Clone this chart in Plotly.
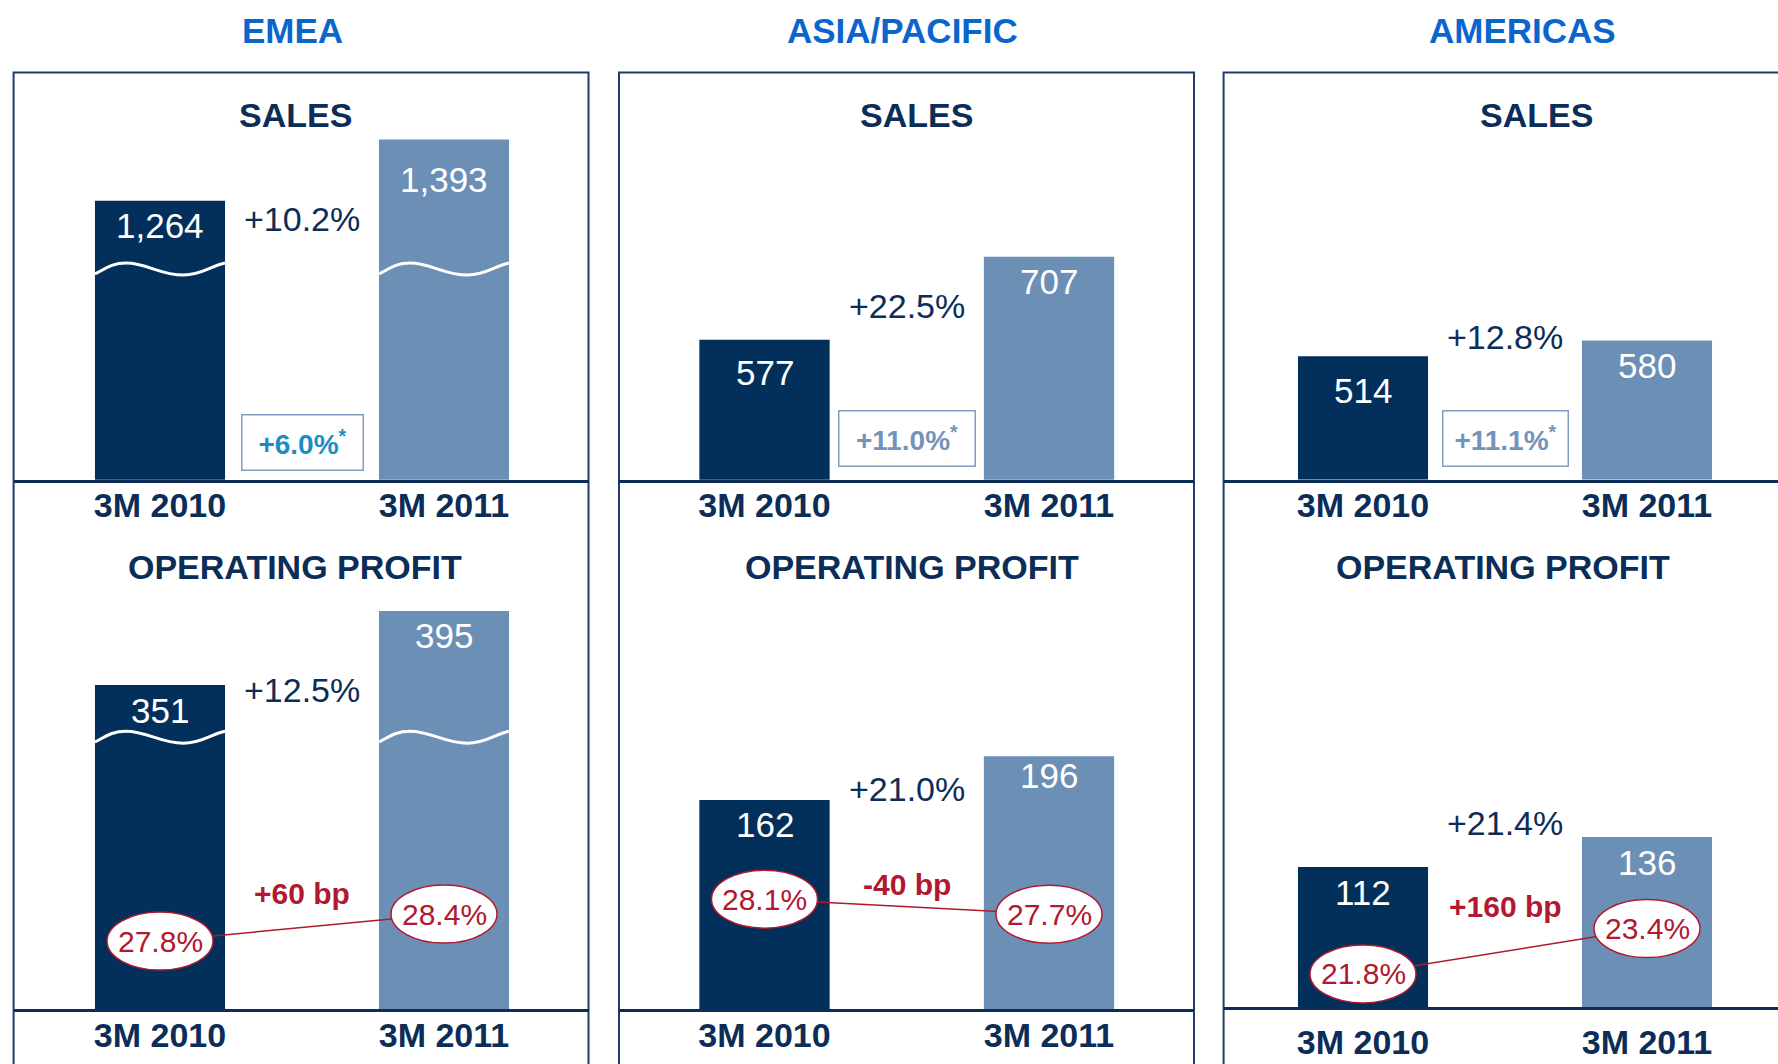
import plotly.graph_objects as go

W, H = 1778, 1064

# --- data -------------------------------------------------------------
regions = ["EMEA", "ASIA/PACIFIC", "AMERICAS"]
periods = ["3M 2010", "3M 2011"]

sales_emea = [1264, 1393]
sales_asia = [577, 707]
sales_americas = [514, 580]

op_emea = [351, 395]
op_asia = [162, 196]
op_americas = [112, 136]

margin_emea = [27.8, 28.4]
margin_asia = [28.1, 27.7]
margin_americas = [21.8, 23.4]

sales_growth = ["+10.2%", "+22.5%", "+12.8%"]
sales_growth_fx = ["+6.0%", "+11.0%", "+11.1%"]
op_growth = ["+12.5%", "+21.0%", "+21.4%"]
margin_change = ["+60 bp", "-40 bp", "+160 bp"]

sales = [sales_emea, sales_asia, sales_americas]
op = [op_emea, op_asia, op_americas]
margins = [margin_emea, margin_asia, margin_americas]

# --- styling ----------------------------------------------------------
DARK = "#03305b"
LIGHT = "#6c8fb6"
NAVY = "#0b2d57"
BLUE = "#0a66cc"
RED = "#b0192f"
BOXLINE = "#1f3d69"
FX_COLORS = ["#1b8dc6", "#7393bb", "#7393bb"]
NUM_FONT = "Liberation Sans, Arial, sans-serif"
HEAD_FONT = "Liberation Sans, Arial, sans-serif"

# pixel layout of the three columns
box_px = [(13.6, 588.5), (619, 1194), (1223.6, 1790)]
centers_px = [(160, 444), (764.5, 1049), (1363, 1647)]
sales_base_px, sales_top_px = 479.7, 135
op_base_px = [1009, 1009, 1007]
op_top_px = 600
tick_standoff = [[-6, -6, -6], [-6, -6, 3]]
# how far below the bar top each value label sits (px)
label_drop = [[[25, 40], [33, 25], [34, 25]],
              [[25, 24], [24, 19], [25, 25]]]

# axis scaling (start value, pixels per unit) - chart is not drawn to one scale
sales_start = [676, 358, 0]
sales_ppu = [0.4744, 0.6385, 0.24]
op_start = [158.4, 0, 0]
op_ppu = [1.682, 1.29, 1.25]
margin_start = [26.29, 25.17, 20.63]
margin_ppu = [45, 37.5, 28.3]
sales_break = [1120, None, None]
op_break = [320, None, None]

BAR_W = 0.458


def px(x):
    return x / W


def py(y):
    return 1 - y / H


def x_range(col):
    left, right = box_px[col]
    right = min(right, W)
    c0, c1 = centers_px[col]
    step = c1 - c0
    return [-(c0 - left) / step, 1 + (right - c1) / step]


def wave_path(cx, yc, amp):
    pts = [(0, -0.8), (0.07, -0.1), (0.12, 1), (0.24, 1), (0.40, 1), (0.50, -1),
           (0.68, -1), (0.82, -1), (0.90, 0.6), (1.0, 1.0)]
    xy = [(cx - BAR_W / 2 + t * BAR_W, yc + v * amp) for t, v in pts]
    s = "M %f,%f" % xy[0]
    for i in range(1, len(xy), 3):
        s += " C %f,%f %f,%f %f,%f" % (xy[i] + xy[i + 1] + xy[i + 2])
    return s


fig = go.Figure()
layout = dict(
    width=W, height=H, margin=dict(l=0, r=0, t=0, b=0, autoexpand=False),
    paper_bgcolor="white", plot_bgcolor="rgba(0,0,0,0)", showlegend=False,
)
shapes = []
annotations = []
ticktext = ["<b>%s</b>" % p for p in periods]

for col in range(3):
    left, right = box_px[col]
    dom_x = [px(left), min(px(right), 1)]
    for row in range(2):
        n = row * 3 + col + 1
        xa = "x" if n == 1 else "x%d" % n
        ya = "y" if n == 1 else "y%d" % n
        if row == 0:
            base, top = sales_base_px, sales_top_px
            vals, start, ppu, brk = sales[col], sales_start[col], sales_ppu[col], sales_break[col]
        else:
            base, top = op_base_px[col], op_top_px
            vals, start, ppu, brk = op[col], op_start[col], op_ppu[col], op_break[col]
        h = base - top
        layout["xaxis" if n == 1 else "xaxis%d" % n] = dict(
            domain=dom_x, range=x_range(col), anchor=ya, showgrid=False, zeroline=False,
            showline=True, linecolor=NAVY, linewidth=2.5, ticks="",
            tickvals=[0, 1], ticktext=ticktext,
            tickfont=dict(family=NUM_FONT, size=34, color=NAVY),
            ticklabelstandoff=tick_standoff[row][col],
        )
        layout["yaxis" if n == 1 else "yaxis%d" % n] = dict(
            domain=[py(base), py(top)], range=[start, start + h / ppu],
            anchor=xa, visible=False,
        )
        fig.add_trace(go.Bar(
            x=[0, 1], y=vals, width=BAR_W, marker=dict(color=[DARK, LIGHT], line=dict(width=0)),
            xaxis=xa, yaxis=ya, hoverinfo="skip",
        ))
        # value labels inside bars
        for i, v in enumerate(vals):
            annotations.append(dict(
                x=i, y=v, xref=xa, yref=ya, text=f"{v:,}", showarrow=False,
                xanchor="center", yanchor="middle", yshift=-label_drop[row][col][i],
                font=dict(family=NUM_FONT, size=35, color="white"),
            ))
        # axis-break waves
        if brk is not None:
            for i in range(2):
                shapes.append(dict(
                    type="path", xref=xa, yref=ya, path=wave_path(i, brk, 6 / ppu),
                    line=dict(color="white", width=3), layer="above",
                ))

        if row == 1:
            # margin line + ellipses on an overlaying axis
            m = 7 + col
            ma = "y%d" % m
            layout["yaxis%d" % m] = dict(
                overlaying=ya, anchor=xa, visible=False,
                range=[margin_start[col], margin_start[col] + h / margin_ppu[col]],
            )
            fig.add_trace(go.Scatter(
                x=[0, 1], y=margins[col], mode="lines", line=dict(color=RED, width=1.5),
                xaxis=xa, yaxis=ma, hoverinfo="skip",
            ))
            for i, mv in enumerate(margins[col]):
                shapes.append(dict(
                    type="circle", xref=xa, yref=ma, xsizemode="pixel", ysizemode="pixel",
                    xanchor=i, yanchor=mv, x0=-53, x1=53, y0=-29, y1=29,
                    fillcolor="white", line=dict(color=RED, width=1.5), layer="above",
                ))
                annotations.append(dict(
                    x=i, y=mv, xref=xa, yref=ma, text=f"{mv:.1f}%", showarrow=False,
                    xanchor="center", yanchor="middle",
                    font=dict(family=NUM_FONT, size=30, color=RED),
                ))

    # frame around the region column
    shapes.append(dict(
        type="rect", xref="paper", yref="paper", x0=px(left), x1=px(right),
        y0=-0.05, y1=py(72.6), line=dict(color=BOXLINE, width=2), layer="below",
    ))

# headings
region_x = [292.6, 902.7, 1522]
sales_title_x = [295, 916, 1536.6]
op_title_x = [295, 912, 1502.6]
for col in range(3):
    annotations.append(dict(
        x=px(region_x[col]), y=py(30.6), xref="paper", yref="paper",
        text="<b>%s</b>" % regions[col], showarrow=False, xanchor="center", yanchor="middle",
        font=dict(family=HEAD_FONT, size=35, color=BLUE),
    ))
    annotations.append(dict(
        x=px(sales_title_x[col]), y=py(114.5), xref="paper", yref="paper",
        text="<b>SALES</b>", showarrow=False, xanchor="center", yanchor="middle",
        font=dict(family=HEAD_FONT, size=34, color=NAVY),
    ))
    annotations.append(dict(
        x=px(op_title_x[col]), y=py(567), xref="paper", yref="paper",
        text="<b>OPERATING PROFIT</b>", showarrow=False, xanchor="center", yanchor="middle",
        font=dict(family=HEAD_FONT, size=34, color=NAVY),
    ))

# growth labels
sales_growth_y = [218.9, 306.2, 336.8]
op_growth_y = [689.5, 789.3, 823.3]
fx_y = [442.8, 438.9, 438.3]
fx_w = [116, 131, 120]
bp_y = [893, 884.5, 907]
for col in range(3):
    xs = "x" if col == 0 else "x%d" % (col + 1)
    xo = "x%d" % (col + 4)
    annotations.append(dict(
        x=0.5, y=py(sales_growth_y[col]), xref=xs, yref="paper", text=sales_growth[col],
        showarrow=False, xanchor="center", yanchor="middle",
        font=dict(family=NUM_FONT, size=34, color=NAVY),
    ))
    annotations.append(dict(
        x=0.5, y=py(op_growth_y[col]), xref=xo, yref="paper", text=op_growth[col],
        showarrow=False, xanchor="center", yanchor="middle",
        font=dict(family=NUM_FONT, size=34, color=NAVY),
    ))
    annotations.append(dict(
        x=0.5, y=py(fx_y[col]), xref=xs, yref="paper",
        text="<b>%s<sup>*</sup></b>" % sales_growth_fx[col], showarrow=False,
        xanchor="center", yanchor="middle",
        width=fx_w[col], height=50, borderpad=2, bgcolor="white",
        bordercolor="#809dc4", borderwidth=1.5,
        font=dict(family=NUM_FONT, size=28, color=FX_COLORS[col]),
    ))
    annotations.append(dict(
        x=0.5, y=py(bp_y[col]), xref=xo, yref="paper", text="<b>%s</b>" % margin_change[col],
        showarrow=False, xanchor="center", yanchor="middle",
        font=dict(family=NUM_FONT, size=30, color=RED),
    ))

layout["shapes"] = shapes
layout["annotations"] = annotations
fig.update_layout(**layout)

# the page body has a default 8px margin; remove it so the figure fills the window
fig.write_html(
    "out.html",
    config={"displayModeBar": False},
    post_script="document.body.style.margin='0px';",
)
